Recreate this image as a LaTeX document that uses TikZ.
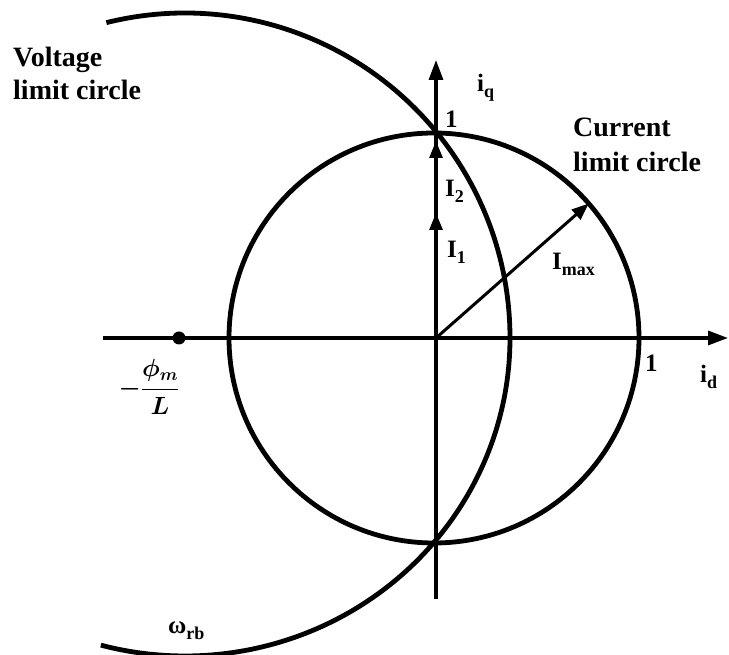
\documentclass[tikz,border=0pt]{standalone}
\usepackage{amsmath}
\usepackage{fontspec}
\setmainfont{Liberation Serif}
\usetikzlibrary{arrows.meta,calc}
\newcommand{\lsub}[1]{\raisebox{-0.22em}{\fontsize{18}{18}\selectfont #1}}
\begin{document}
\begin{tikzpicture}[x=1pt,y=1pt,
  lbl/.style={font=\fontsize{28}{30}\selectfont\bfseries, inner sep=0pt, anchor=base west},
  axlbl/.style={font=\fontsize{25}{26}\selectfont\bfseries, inner sep=0pt, anchor=base west},
  axisline/.style={line width=3.2pt, -{Triangle[length=20pt,width=14pt]}},
  curve/.style={line width=4.8pt},
  vec/.style={line width=3pt, -{Triangle[length=17pt,width=13pt]}}]
\useasboundingbox (0,0) rectangle (729,655);
% key points
\coordinate (O) at (436,317);
\coordinate (C) at (434,317);
\coordinate (V) at (185,317);
\coordinate (xl) at (103,317);
\coordinate (xr) at (728,317);
\coordinate (yb) at (436,56);
\coordinate (yt) at (436,595);
\coordinate (i1) at (436,442);
\coordinate (i2) at (436,514);
\coordinate (im) at ($(C)+(41:205)$);
% circles
\draw[curve] (C) circle[radius=205];
\draw[curve] ($(V)+(104:325)$) arc[start angle=104,end angle=0,radius=325]
  arc[start angle=0,end angle=-105,x radius=325,y radius=318];
% axes
\draw[axisline] (xl) -- (xr);
\draw[axisline] (yb) -- (yt);
\node[circle,fill,inner sep=0pt,minimum size=13pt] (dot) at (179,317) {};
% vectors
\draw[vec] (O) -- (i2);
\draw[vec] (O) -- (i1);
\draw[vec] (O) -- (im);
% labels
\node[lbl] (v1) at (13,588) {Voltage};
\node[lbl] (v2) at (13,555) {limit circle};
\node[lbl] (c1) at (573,518) {Current};
\node[lbl] (c2) at (573,483) {limit circle};
\node[axlbl] (iq) at (477,563) {i\lsub{q}};
\node[axlbl] (one1) at (445,527) {1};
\node[axlbl] (I2) at (445,458) {I\lsub{2}};
\node[axlbl] (I1) at (447,397) {I\lsub{1}};
\node[axlbl] (Imax) at (552,385) {I\lsub{max}};
\node[axlbl] (one2) at (645,283) {1};
\node[axlbl] (id) at (700,272) {i\lsub{d}};
\node[axlbl] (wrb) at (168,21) {ω\lsub{rb}};
\node[inner sep=0pt,font=\fontsize{25}{30}\selectfont\boldmath] (phi) at (149,268) {$-\dfrac{\phi_m}{L}$};
\end{tikzpicture}
\end{document}
